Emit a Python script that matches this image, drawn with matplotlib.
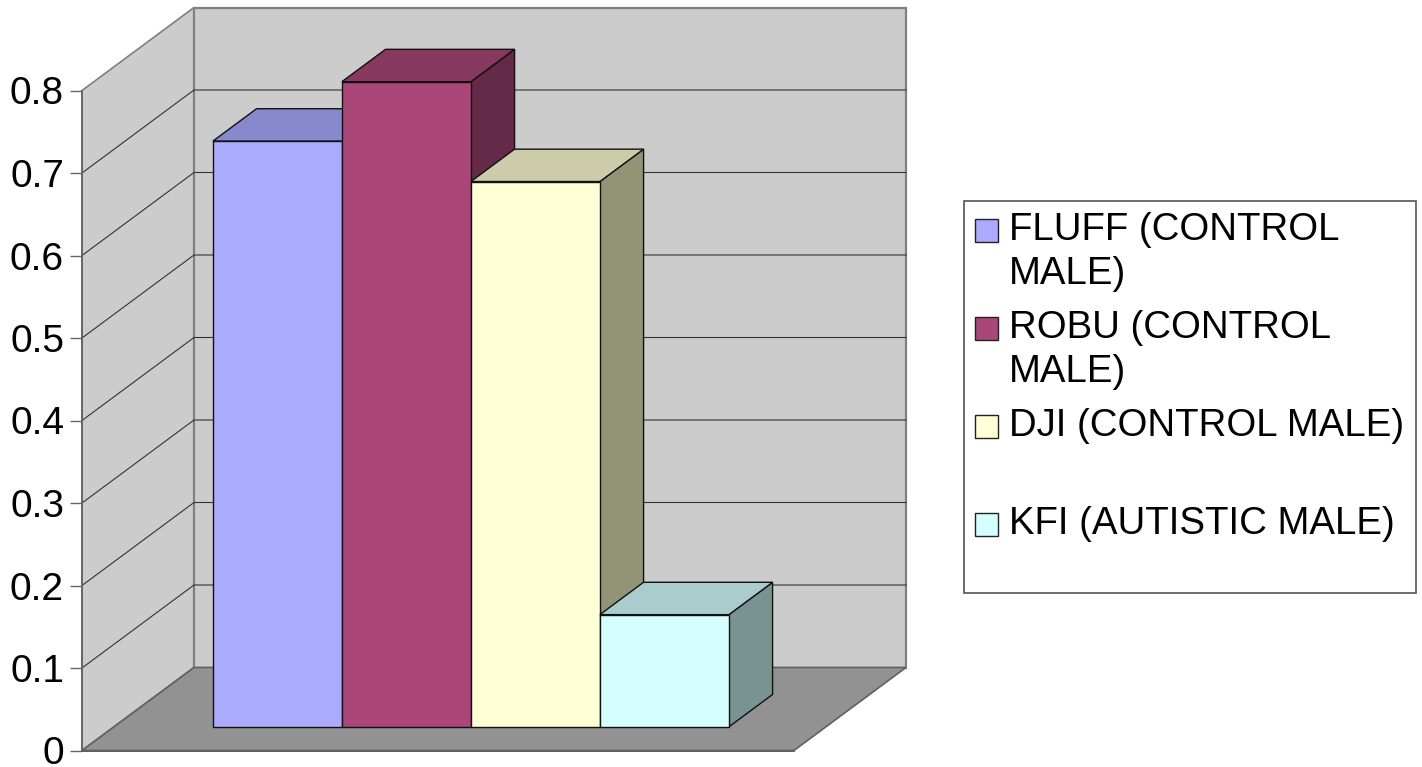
import matplotlib
matplotlib.use("Agg")
import matplotlib.pyplot as plt
from matplotlib.patches import Polygon, Rectangle

plt.rcParams['font.family'] = ['Liberation Sans', 'DejaVu Sans']

W, H = 1422, 767

series_names = ["FLUFF", "ROBU", "DJI", "KFI"]
series_values = [0.71, 0.782, 0.661, 0.136]
front_colors = ["#AAAAFF", "#AA4778", "#FFFFD5", "#D5FFFF"]
top_colors = ["#8888CC", "#88395F", "#CCCCAA", "#AACCCC"]
side_colors = ["#666699", "#652A47", "#939376", "#799292"]
y_ticks = [0, 0.1, 0.2, 0.3, 0.4, 0.5, 0.6, 0.7, 0.8]
y_tick_labels = ["0", "0.1", "0.2", "0.3", "0.4", "0.5", "0.6", "0.7", "0.8"]
legend_lines = [["FLUFF (CONTROL", "MALE)"], ["ROBU (CONTROL", "MALE)"],
                ["DJI (CONTROL MALE)"], ["KFI (AUTISTIC MALE)"]]

# oblique projection: how far the back of the box shifts, in data units
DEPTH_X = 112 / 712
DEPTH_Y = 83 / 825
BAR_W = 129 / 712
BAR_START = 0.139
BAR_D0, BAR_D1 = 0.285, 0.675


def pt(x, v, d=0.0):
    return (x + d * DEPTH_X, v + d * DEPTH_Y)


fig = plt.figure(figsize=(W / 100, H / 100), dpi=100, facecolor="white")
ax = fig.add_axes([82 / W, (H - 750.5) / H, 712 / W, 660 / H])
ax.set_xlim(0, 1)
ax.set_ylim(0, 0.8)
ax.patch.set_visible(False)


def face(points, color, edge, lw=1.0, z=1):
    ax.add_patch(Polygon(points, closed=True, facecolor=color, edgecolor=edge,
                         linewidth=lw, clip_on=False, zorder=z, joinstyle="miter"))


# walls and floor
top = y_ticks[-1]
face([pt(0, 0), pt(0, 0, 1), pt(0, top, 1), pt(0, top)], "#CCCCCC", "#808080", 1.2)
face([pt(0, 0, 1), pt(1, 0, 1), pt(1, top, 1), pt(0, top, 1)], "#CCCCCC", "#808080", 1.6)
face([pt(0, 0), pt(1, 0), pt(1, 0, 1), pt(0, 0, 1)], "#929292", "#606060", 1.2)

# gridlines run along the left wall and then across the back wall
for v in y_ticks[1:-1]:
    xs, ys = zip(pt(0, v), pt(0, v, 1), pt(1, v, 1))
    ax.plot(xs, ys, color="#333333", lw=0.8, clip_on=False, zorder=2)

# bars, left to right so each one covers the side of the one before
for i, v in enumerate(series_values):
    x0 = BAR_START + i * BAR_W
    x1 = x0 + BAR_W
    z = 3 + i
    face([pt(x1, 0, BAR_D0), pt(x1, 0, BAR_D1), pt(x1, v, BAR_D1), pt(x1, v, BAR_D0)],
         side_colors[i], "#111111", 1.0, z)
    face([pt(x0, v, BAR_D0), pt(x1, v, BAR_D0), pt(x1, v, BAR_D1), pt(x0, v, BAR_D1)],
         top_colors[i], "#111111", 1.0, z)
    face([pt(x0, 0, BAR_D0), pt(x1, 0, BAR_D0), pt(x1, v, BAR_D0), pt(x0, v, BAR_D0)],
         front_colors[i], "#111111", 1.0, z)

ax.set_yticks(y_ticks)
ax.set_yticklabels(y_tick_labels, fontsize=28)
ax.set_xticks([])
ax.tick_params(axis="y", length=8.6, width=1.0, color="#666666", pad=4.3)
for side in ["top", "right"]:
    ax.spines[side].set_visible(False)
ax.spines["left"].set_color("#666666")
ax.spines["left"].set_linewidth(1.4)
ax.spines["left"].set_zorder(2.5)
ax.spines["bottom"].set_color("#606060")
ax.spines["bottom"].set_linewidth(1.4)
ax.spines["bottom"].set_zorder(2.5)

# legend panel, laid out in pixel coordinates
leg = fig.add_axes([0, 0, 1, 1])
leg.set_xlim(0, W)
leg.set_ylim(H, 0)
leg.axis("off")
leg.patch.set_visible(False)
leg.add_patch(Rectangle((963.5, 200.5), 452, 392, facecolor="white",
                        edgecolor="#555555", linewidth=1.2))
row_baselines = [240.5, 338.5, 436.5, 534]
for lines, base, color in zip(legend_lines, row_baselines, front_colors):
    leg.add_patch(Rectangle((975, base - 21.5), 23, 23, facecolor=color,
                            edgecolor="#222222", linewidth=1.0))
    for j, line in enumerate(lines):
        leg.text(1009, base + j * 44, line, fontsize=27.6, color="black",
                 ha="left", va="baseline")

fig.savefig("out.png", dpi=100, facecolor="white")
